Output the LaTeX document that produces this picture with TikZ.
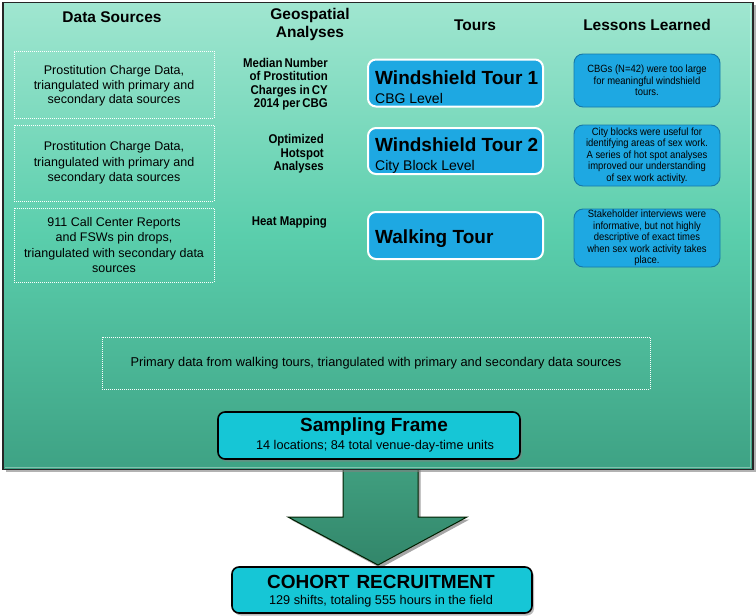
\documentclass[tikz,border=0pt]{standalone}
\usepackage{fontspec}
\setmainfont{Liberation Sans}
\newfontfamily\narrowfont[FakeStretch=0.9]{Liberation Sans}
\usetikzlibrary{shadows,calc}
\definecolor{tealtop}{RGB}{160,230,208}
\definecolor{tealmid}{RGB}{90,206,172}
\definecolor{tealbot}{RGB}{62,162,132}
\definecolor{tourblue}{RGB}{30,168,226}
\definecolor{lessonedge}{RGB}{22,120,168}
\definecolor{cyanbox}{RGB}{22,198,214}
\definecolor{arrowtop}{RGB}{66,162,130}
\definecolor{arrowbot}{RGB}{50,134,106}
\tikzset{
  mainbox/.style={draw=black!85, line width=1.6pt, top color=tealtop, bottom color=tealbot, middle color=tealmid, minimum width=750pt, minimum height=467pt, inner sep=0pt,
    drop shadow={shadow xshift=2.5pt, shadow yshift=-2.5pt, opacity=.6}},
  header/.style={font=\fontsize{15.5}{17}\selectfont\bfseries, align=center, inner sep=0pt},
  srcbox/.style={draw=white, line width=1pt, dash pattern=on 1pt off 1pt, minimum width=200pt, align=center, inner sep=0pt, font=\fontsize{12.5}{15.5}\selectfont},
  geo/.style={font=\narrowfont\fontsize{12.7}{13.5}\selectfont\bfseries, align=right, inner sep=0pt, anchor=east},
  tourbox/.style={draw=white, line width=2pt, fill=tourblue, rounded corners=8pt, minimum width=175pt, inner sep=0pt},
  tourtitle/.style={font=\fontsize{19}{21}\selectfont\bfseries, anchor=base west, inner sep=0pt},
  toursub/.style={font=\fontsize{14}{16}\selectfont, anchor=base west, inner sep=0pt},
  lessonbox/.style={draw=lessonedge, line width=0.9pt, fill=tourblue, rounded corners=9pt, minimum width=146pt, align=center, inner sep=0pt, font=\narrowfont\fontsize{10.5}{11.5}\selectfont},
  resultbox/.style={draw=black, line width=1.6pt, fill=cyanbox, rounded corners=7pt, inner sep=0pt,
    drop shadow={shadow xshift=2pt, shadow yshift=-2.5pt, opacity=.55}},
  restitle/.style={font=\fontsize{19}{21}\selectfont\bfseries, inner sep=0pt},
  ressub/.style={font=\fontsize{12.7}{14}\selectfont, inner sep=0pt},
}
\begin{document}
\begin{tikzpicture}[x=1pt,y=-1pt]
\useasboundingbox (0,0) rectangle (756,616);
\fill[white] (0,0) rectangle (756,616);

% arrow (behind frame)
\coordinate (tip) at (378,565);
\fill[black, opacity=.35] (345.5,460) -- (420.5,460) -- (420.5,519.5) -- (469.5,519.5) -- (380.5,568) -- (290.5,519.5) -- (345.5,519.5) -- cycle;
\draw[draw=black!70!green!40!black, line width=1pt, top color=arrowtop, bottom color=arrowbot]
  (343,455) -- (418,455) -- (418,517) -- (467,517) -- (tip) -- (288,517) -- (343,517) -- cycle;

% main frame
\node[mainbox] (frame) at (378,236) {};
\draw[white, opacity=.35, line width=1.2pt] ($(frame.north east)+(-3,3)$) -- ($(frame.south east)+(-3,-3)$) -- ($(frame.south west)+(3,-3)$);

% headers
\node[header] (h1) at (112,17) {Data Sources};
\node[header] (h2) at (310,24) {Geospatial\\[1pt]Analyses};
\node[header] (h3) at (475,25) {Tours};
\node[header] (h4) at (647,25) {Lessons Learned};

% data source boxes
\node[srcbox, minimum height=67pt, font=\fontsize{12.5}{14.5}\selectfont, text depth=-2pt] (s1) at (114,84.5) {Prostitution Charge Data,\\triangulated with primary and\\secondary data sources};
\node[srcbox, minimum height=76pt] (s2) at (114,163) {Prostitution Charge Data,\\triangulated with primary and\\secondary data sources};
\node[srcbox, minimum height=74pt] (s3) at (114,245) {911 Call Center Reports\\and FSWs pin drops,\\triangulated with secondary data\\sources};

% geospatial analyses
\node[geo] (g1) at (328,84) {Median\,Number\\of Prostitution\\Charges in\,CY\\2014 per\,CBG};
\node[geo] (g2) at (324,154) {Optimized\\Hotspot\\Analyses};
\node[geo] (g3) at (327,222) {Heat Mapping};

% tours
\node[tourbox, minimum height=47pt] (t1) at (455.5,83) {};
\node[tourtitle] (t1a) at (375,84) {Windshield Tour 1};
\node[toursub] (t1b) at (375,103) {CBG Level};
\node[tourbox, minimum height=46pt] (t2) at (455.5,151) {};
\node[tourtitle] (t2a) at (375,151) {Windshield Tour 2};
\node[toursub] (t2b) at (375,170) {City Block Level};
\node[tourbox, minimum height=47pt] (t3) at (455.5,235.5) {};
\node[tourtitle] (t3a) at (375,243) {Walking Tour};

% lessons learned
\node[lessonbox, minimum height=53pt] (l1) at (647,80.5) {CBGs (N=42) were too large\\for meaningful windshield\\tours.};
\node[lessonbox, minimum height=61pt] (l2) at (647,155.5) {City blocks were useful for\\identifying areas of sex work.\\A series of hot spot analyses\\improved our understanding\\of sex work activity.};
\node[lessonbox, minimum height=58pt] (l3) at (647,238) {Stakeholder interviews were\\informative, but not highly\\descriptive of exact times\\when sex work activity takes\\place.};

% primary data box
\node[srcbox, minimum width=548pt, minimum height=52pt, font=\fontsize{12.8}{14}\selectfont] (pd) at (376,363) {Primary data from walking tours, triangulated with primary and secondary data sources};

% sampling frame
\node[resultbox, minimum width=302pt, minimum height=47pt] (sf) at (369,435.5) {};
\node[restitle] (sft) at (374,427) {Sampling Frame};
\node[ressub] (sfs) at (375,446) {14 locations; 84 total venue-day-time units};

% cohort recruitment
\node[resultbox, minimum width=300pt, minimum height=46pt] (co) at (382,590) {};
\node[restitle] (cot) at (381,582) {COHORT\hspace{7pt}RECRUITMENT};
\node[ressub] (cos) at (381,601) {129 shifts, totaling 555 hours in the field};
\end{tikzpicture}
\end{document}
